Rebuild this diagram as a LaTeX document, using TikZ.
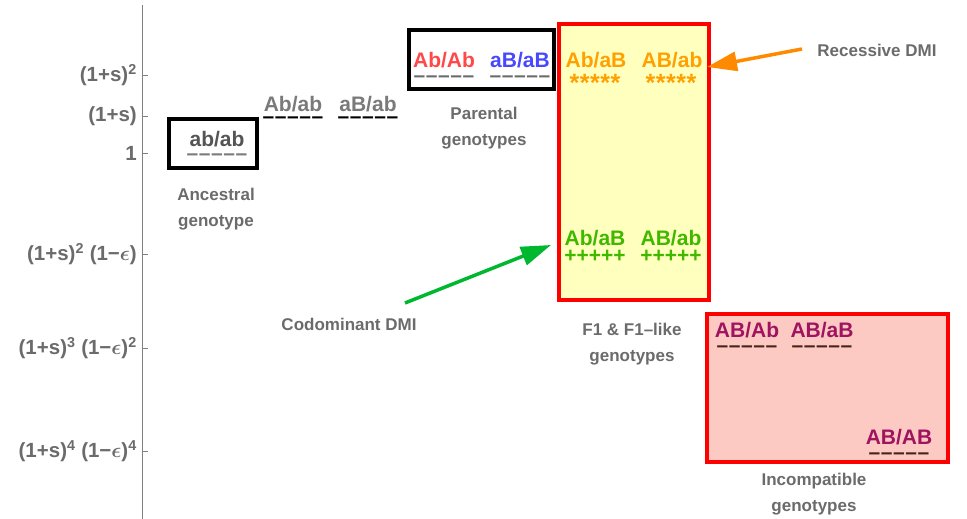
\documentclass[tikz,border=0pt]{standalone}
\usepackage{fontspec}
\setmainfont{Liberation Sans}
\usepackage{xcolor}
\usetikzlibrary{arrows.meta}

\definecolor{labgray}{HTML}{6B6B6B}
\definecolor{ancgray}{HTML}{555555}
\definecolor{midgray}{HTML}{7A7A7A}
\definecolor{axisgray}{HTML}{808080}
\definecolor{parred}{HTML}{FF4848}
\definecolor{parblue}{HTML}{4848FF}
\definecolor{recorange}{HTML}{FFA000}
\definecolor{arrorange}{HTML}{FF8A00}
\definecolor{codgreen}{HTML}{40B800}
\definecolor{arrgreen}{HTML}{00B830}
\definecolor{incpurple}{HTML}{A0135F}
\definecolor{incdash}{HTML}{4A2318}
\definecolor{f1fill}{HTML}{FFFFBE}
\definecolor{incfill}{HTML}{FCCAC2}

\newcommand{\dashrow}{\textendash\kern0.6pt\textendash\kern0.6pt\textendash\kern0.6pt\textendash\kern0.6pt\textendash}
\newcommand{\starrow}{{\fontsize{25}{25}\selectfont*\kern0.5pt*\kern0.5pt*\kern0.5pt*\kern0.5pt*}}

\begin{document}
\begin{tikzpicture}[
  x=1pt, y=-1pt,
  geno/.style={anchor=base, inner sep=0pt, font=\fontsize{21}{21}\selectfont\bfseries},
  lab/.style={anchor=base, align=center, inner sep=0pt, text=labgray, font=\fontsize{17}{26}\selectfont\bfseries},
  ylab/.style={anchor=east, inner sep=0pt, text=labgray, font=\fontsize{20.5}{20.5}\selectfont\bfseries\boldmath},
  blackbox/.style={draw=black, line width=4pt, inner sep=0pt},
  redbox/.style={draw=red, line width=4pt, inner sep=0pt},
  arr/.style={line width=3.5pt, -{Triangle[length=30pt,width=19pt]}},
]
  \path[use as bounding box] (0,0) rectangle (967,519);

  % axis and fitness levels
  \draw[axisgray, line width=1pt] (142,5) -- (142,519);
  \foreach \yy in {75,116,153,254,348,451}
    \draw[axisgray, line width=0.8pt] (142,\yy) -- (148,\yy);
  \node[ylab] (lv2) at (137,75) {(1+s)\textsuperscript{2}};
  \node[ylab] (lv1) at (137,116) {(1+s)};
  \node[ylab] (lv0) at (137,153) {1};
  \node[ylab] (lvf) at (137,254) {(1+s)\textsuperscript{2} (1−$\epsilon$)};
  \node[ylab] (lvg) at (137,348) {(1+s)\textsuperscript{3} (1−$\epsilon$)\textsuperscript{2}};
  \node[ylab] (lvh) at (137,451) {(1+s)\textsuperscript{4} (1−$\epsilon$)\textsuperscript{4}};

  % boxes
  \node[blackbox, minimum width=88pt, minimum height=49pt] (ancbox) at (213,143.5) {};
  \node[blackbox, minimum width=145pt, minimum height=59pt] (parbox) at (481.5,59.5) {};
  \node[redbox, fill=f1fill, minimum width=150pt, minimum height=276pt] (f1box) at (634,162) {};
  \node[redbox, fill=incfill, minimum width=241pt, minimum height=148pt] (incbox) at (827.5,388) {};

  % ancestral and single mutants
  \node[geno, text=ancgray] (anc) at (217,146) {ab/ab};
  \node[geno, text=midgray] (ancd) at (217,160) {\dashrow};
  \node[geno, text=midgray] (sgA) at (293,111) {Ab/ab};
  \node[geno] (sgAd) at (293,124) {\dashrow};
  \node[geno, text=midgray] (sgB) at (368,111) {aB/ab};
  \node[geno] (sgBd) at (368,124) {\dashrow};

  % parental
  \node[geno, text=parred] (parA) at (444,67) {Ab/Ab};
  \node[geno, text=labgray] (parAd) at (444,83) {\dashrow};
  \node[geno, text=parblue] (parB) at (520,67) {aB/aB};
  \node[geno, text=labgray] (parBd) at (520,83) {\dashrow};

  % F1 and F1-like
  \node[geno, text=recorange] (recA) at (596,67) {Ab/aB};
  \node[geno, text=recorange] (recAs) at (595,92) {\starrow};
  \node[geno, text=recorange] (recB) at (672,67) {AB/ab};
  \node[geno, text=recorange] (recBs) at (671,92) {\starrow};
  \node[geno, text=codgreen] (codA) at (595,245) {Ab/aB};
  \node[geno, text=codgreen] (codAp) at (595,262) {+++++};
  \node[geno, text=codgreen] (codB) at (671,245) {AB/ab};
  \node[geno, text=codgreen] (codBp) at (671,262) {+++++};

  % incompatible
  \node[geno, text=incpurple] (incA) at (747,337) {AB/Ab};
  \node[geno, text=incdash] (incAd) at (747,352) {\dashrow};
  \node[geno, text=incpurple] (incB) at (822,337) {AB/aB};
  \node[geno, text=incdash] (incBd) at (822,352) {\dashrow};
  \node[geno, text=incpurple] (incC) at (899,444) {AB/AB};
  \node[geno, text=incdash] (incCd) at (899,459) {\dashrow};

  % captions (base is the second line)
  \node[lab] (anclab) at (216,226) {Ancestral\\genotype};
  \node[lab] (parlab) at (484,145) {Parental\\genotypes};
  \node[lab] (f1lab) at (632,361) {F1 \& F1–like\\genotypes};
  \node[lab] (inclab) at (814,511) {Incompatible\\genotypes};
  \node[lab] (reclab) at (877,57) {Recessive DMI};
  \node[lab] (codlab) at (349,330) {Codominant DMI};

  % pointers
  \coordinate (recstart) at (802,49);
  \coordinate (rectip) at (707,67);
  \coordinate (codstart) at (405,303);
  \coordinate (codtip) at (551,245);
  \draw[arr, arrorange] (recstart) -- (rectip);
  \draw[arr, arrgreen] (codstart) -- (codtip);
\end{tikzpicture}
\end{document}
